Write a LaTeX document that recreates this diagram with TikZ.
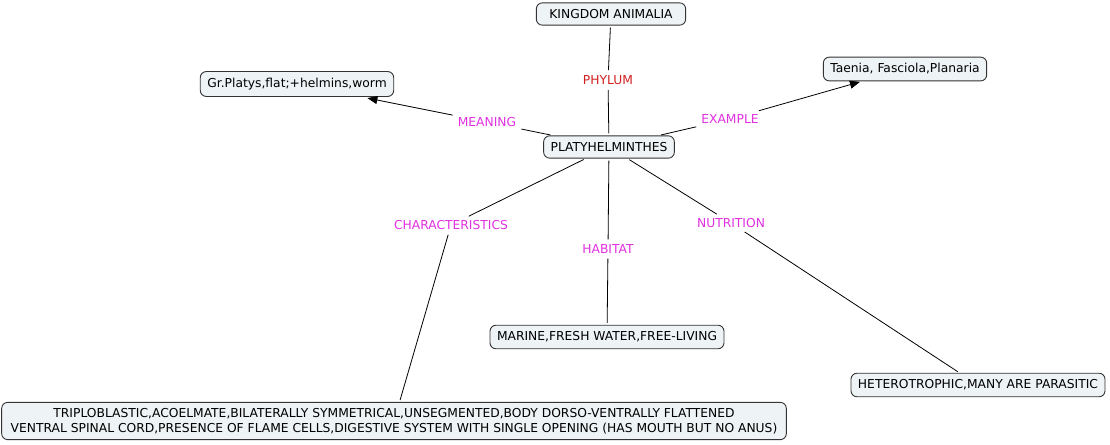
\documentclass[tikz,border=0pt]{standalone}
\usepackage{fontspec}
\setmainfont{DejaVu Sans}
\usepackage{tikz}
\usetikzlibrary{arrows.meta}

\definecolor{boxfill}{HTML}{EEF3F5}
\definecolor{boxline}{HTML}{333333}
\definecolor{linkred}{HTML}{D02020}
\definecolor{linkpink}{HTML}{E030E0}

\tikzset{
  concept/.style={draw=boxline, fill=boxfill, rounded corners=6pt, line width=0.9pt,
    inner xsep=7pt, inner ysep=6.5pt, font=\fontsize{12.3}{14.5}\selectfont, align=center},
  linkword/.style={inner sep=3pt, text=linkpink, font=\fontsize{12.3}{14}\selectfont},
  link/.style={draw=black, line width=0.8pt, shorten <=2pt, shorten >=2pt},
  arrowlink/.style={link, -{Triangle[length=10pt,width=8pt]}}
}

\begin{document}
\begin{tikzpicture}[x=1pt, y=-1pt]
		\useasboundingbox (0,0) rectangle (1110,444);
		% Concepts
		\node[concept, inner xsep=13pt] (kingdom) at (611,14) {KINGDOM ANIMALIA};
		\node[concept] (platy) at (609,147) {PLATYHELMINTHES};
		\node[concept] (meaningbox) at (297,84) {Gr.Platys,flat;+helmins,worm};
		\node[concept] (examplebox) at (905,69) {Taenia, Fasciola,Planaria};
		\node[concept, inner xsep=9pt, inner ysep=6pt] (charbox) at (394,421)
			{TRIPLOBLASTIC,ACOELMATE,BILATERALLY SYMMETRICAL,UNSEGMENTED,BODY DORSO-VENTRALLY FLATTENED\\
			 VENTRAL SPINAL CORD,PRESENCE OF FLAME CELLS,DIGESTIVE SYSTEM WITH SINGLE OPENING (HAS MOUTH BUT NO ANUS)};
		\node[concept] (habitatbox) at (607,337) {MARINE,FRESH WATER,FREE-LIVING};
		\node[concept] (nutribox) at (978,385) {HETEROTROPHIC,MANY ARE PARASITIC};
		% Linking words
		\node[linkword, text=linkred] (phylum) at (608,80) {PHYLUM};
		\node[linkword] (meaning) at (487,122) {MEANING};
		\node[linkword] (example) at (730,119) {EXAMPLE};
		\node[linkword] (char) at (451,225) {CHARACTERISTICS};
		\node[linkword] (habitat) at (608,249) {HABITAT};
		\node[linkword] (nutri) at (731,223) {NUTRITION};
		% Connectors
		\draw[link] (kingdom) -- (phylum);
		\draw[link] (phylum) -- (platy);
		\draw[link] (platy) -- (meaning);
		\draw[arrowlink, shorten >=6pt] (meaning) -- (meaningbox);
		\draw[link] (platy) -- (example);
		\draw[arrowlink] (example) -- (examplebox);
		\draw[link] (platy) -- (char);
		\draw[link] (char) -- (charbox);
		\draw[link] (platy) -- (habitat);
		\draw[link] (habitat) -- (habitatbox);
		\draw[link] (platy) -- (nutri);
		\draw[link] (nutri) -- (nutribox);
	\end{tikzpicture}
\end{document}
